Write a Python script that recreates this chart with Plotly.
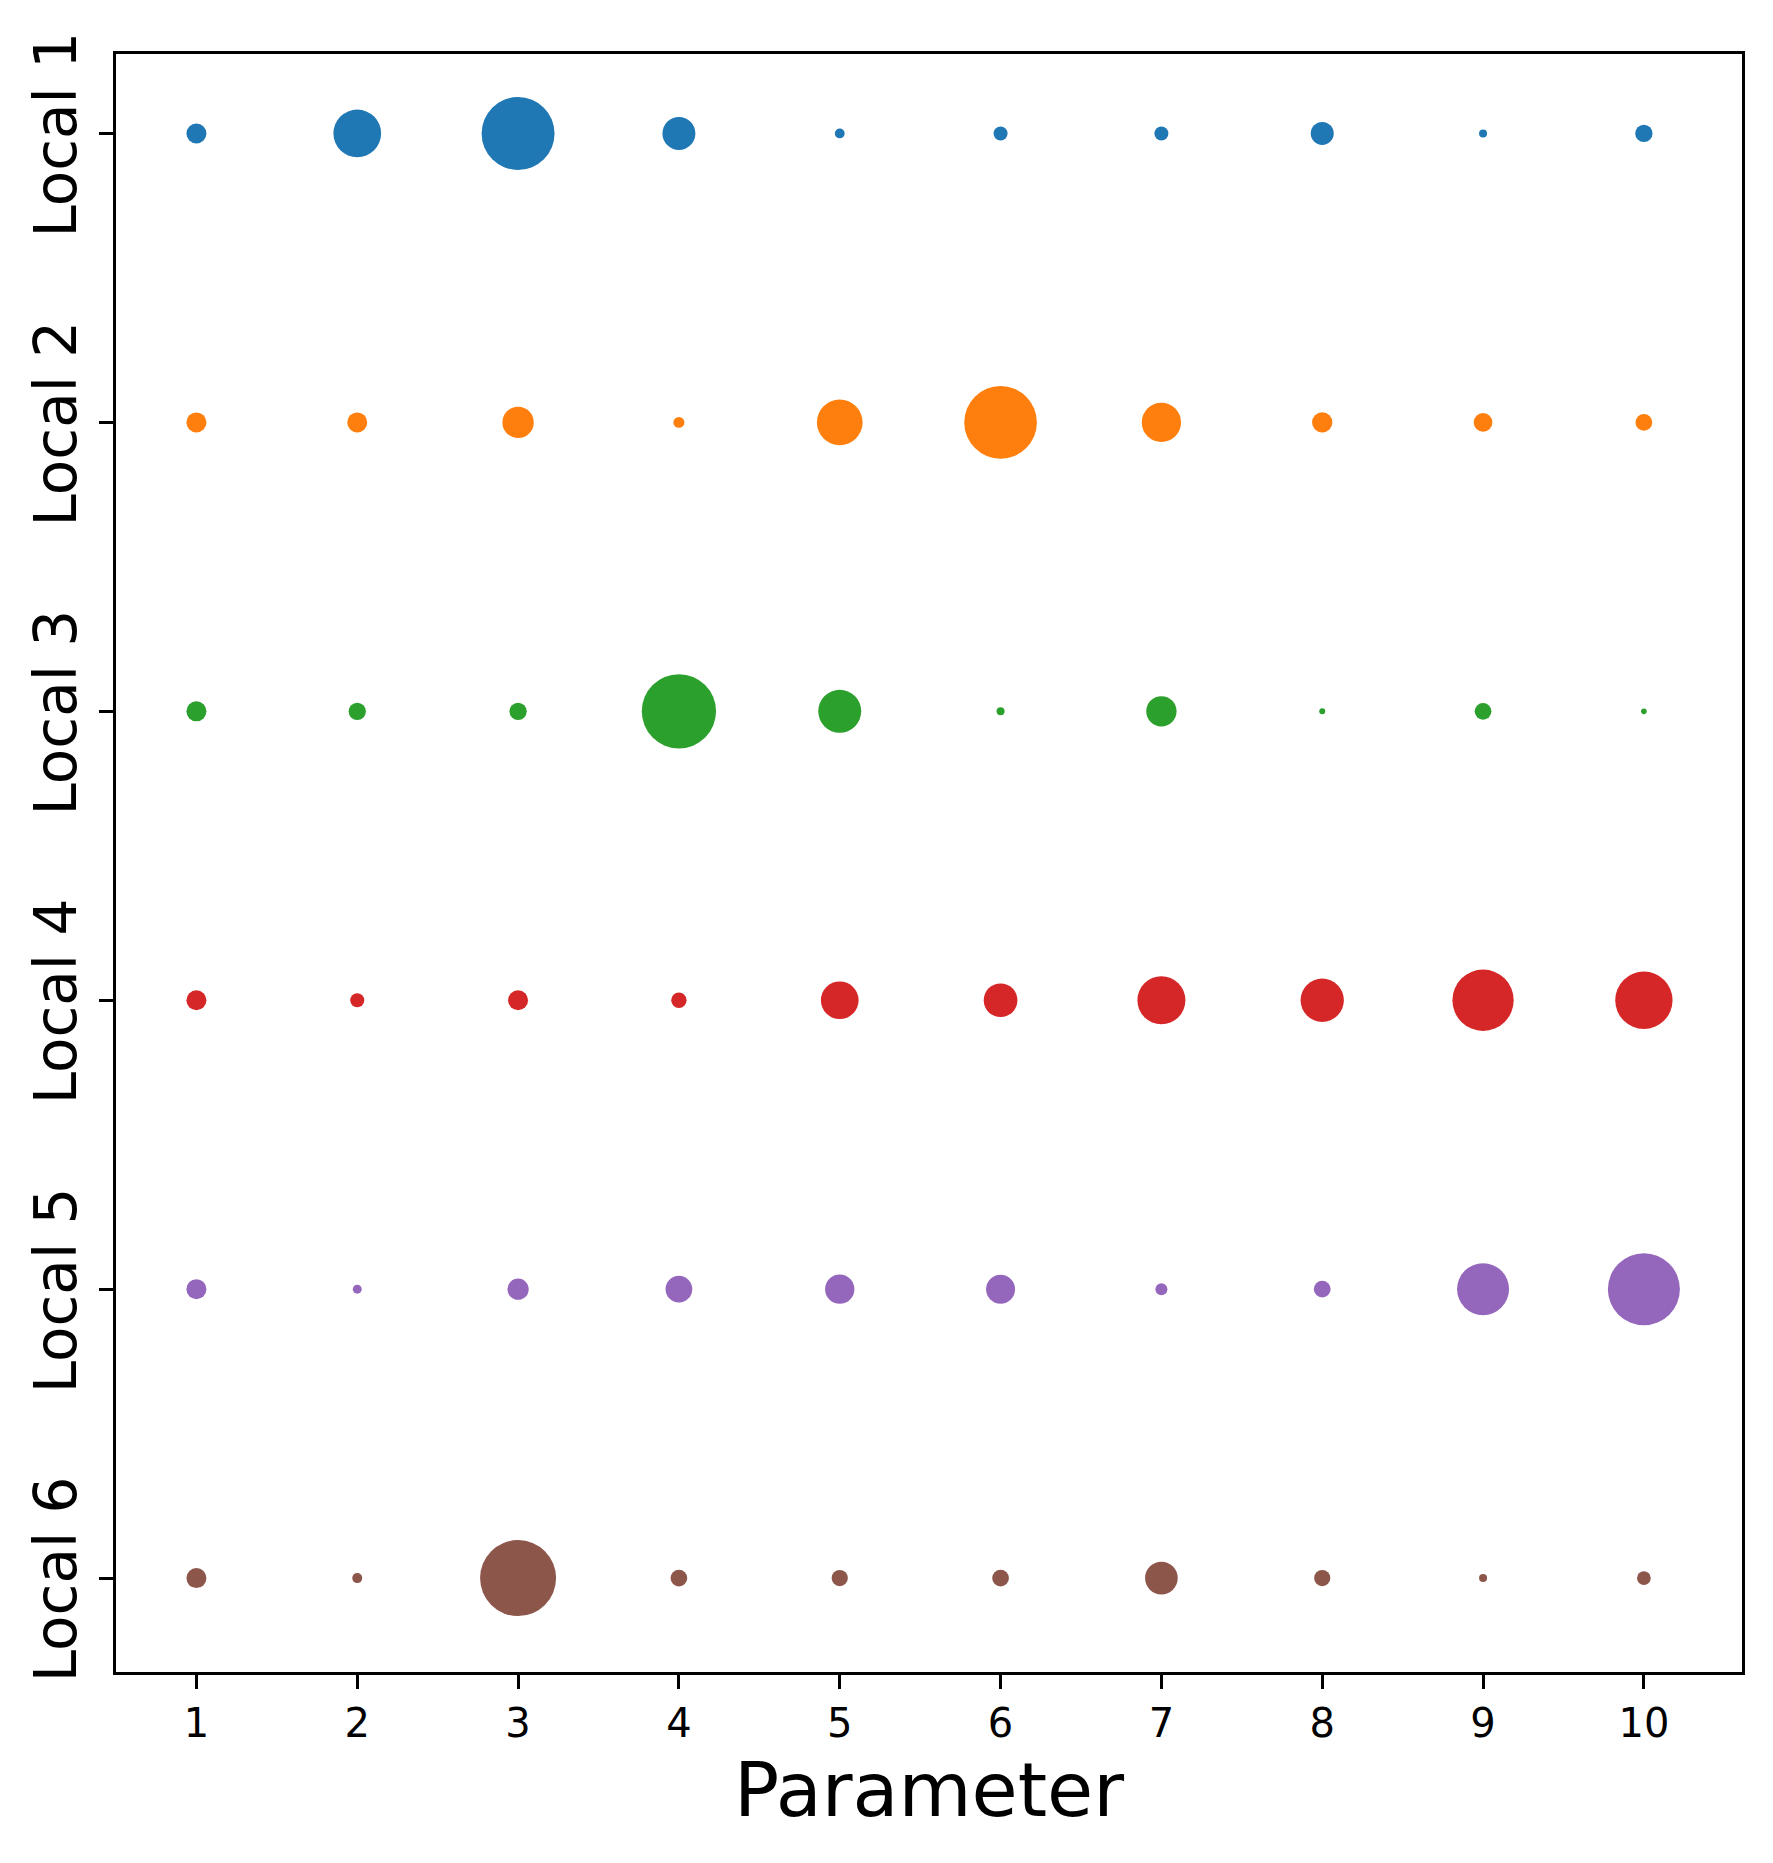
import plotly.graph_objects as go

# parameter positions on the x axis
parameters = [1, 2, 3, 4, 5, 6, 7, 8, 9, 10]

# row labels (top to bottom)
locals_ = ["Local 1", "Local 2", "Local 3", "Local 4", "Local 5", "Local 6"]

# bubble values (area, relative to parameter 1) for each local
local_1 = [1.0, 5.69, 13.3, 2.72, 0.24, 0.49, 0.49, 1.32, 0.16, 0.75]
local_2 = [1.0, 1.0, 2.45, 0.30, 5.22, 13.2, 3.86, 1.03, 0.87, 0.70]
local_3 = [1.0, 0.75, 0.75, 13.8, 4.62, 0.16, 2.30, 0.09, 0.70, 0.08]
local_4 = [1.0, 0.49, 1.0, 0.59, 3.55, 2.84, 5.76, 4.69, 9.39, 8.21]
local_5 = [1.0, 0.20, 1.13, 1.78, 2.15, 2.10, 0.36, 0.70, 6.76, 12.96]
local_6 = [1.0, 0.25, 14.44, 0.70, 0.66, 0.70, 2.67, 0.66, 0.16, 0.47]

values = [local_1, local_2, local_3, local_4, local_5, local_6]
colors = ['#1f77b4', '#ff7f0e', '#2ca02c', '#d62728', '#9467bd', '#8c564b']

fig = go.Figure()
for i, (name, vals) in enumerate(zip(locals_, values)):
    fig.add_trace(go.Scatter(
        x=parameters,
        y=[i + 1] * len(parameters),
        mode='markers',
        name=name,
        marker=dict(size=vals, sizemode='area', sizeref=1 / 200.0,
                    color=colors[i], line=dict(width=0), opacity=1),
    ))

axis_line = dict(showline=True, linecolor='black', linewidth=2.5, mirror=True,
                 ticks='outside', ticklen=14, tickwidth=2.5, tickcolor='black',
                 showgrid=False, zeroline=False, automargin=False)

# page body has an 8px margin, so the figure is drawn 8px in
fig.update_layout(
    width=1765, height=1855,
    margin=dict(l=108, r=31, t=46, b=191),
    paper_bgcolor='white', plot_bgcolor='white',
    showlegend=False,
    font=dict(family='DejaVu Sans', color='black'),
    xaxis=dict(range=[0.5, 10.61], tickvals=parameters,
               tickfont=dict(size=40),
               title=dict(text='Parameter', font=dict(size=75), standoff=14),
               **axis_line),
    yaxis=dict(range=[6.325, 0.725], tickvals=list(range(1, 7)),
               ticktext=locals_, tickangle=-90, ticklabelshift=-10,
               tickfont=dict(size=58),
               **axis_line),
)

fig.write_html("out.html")
